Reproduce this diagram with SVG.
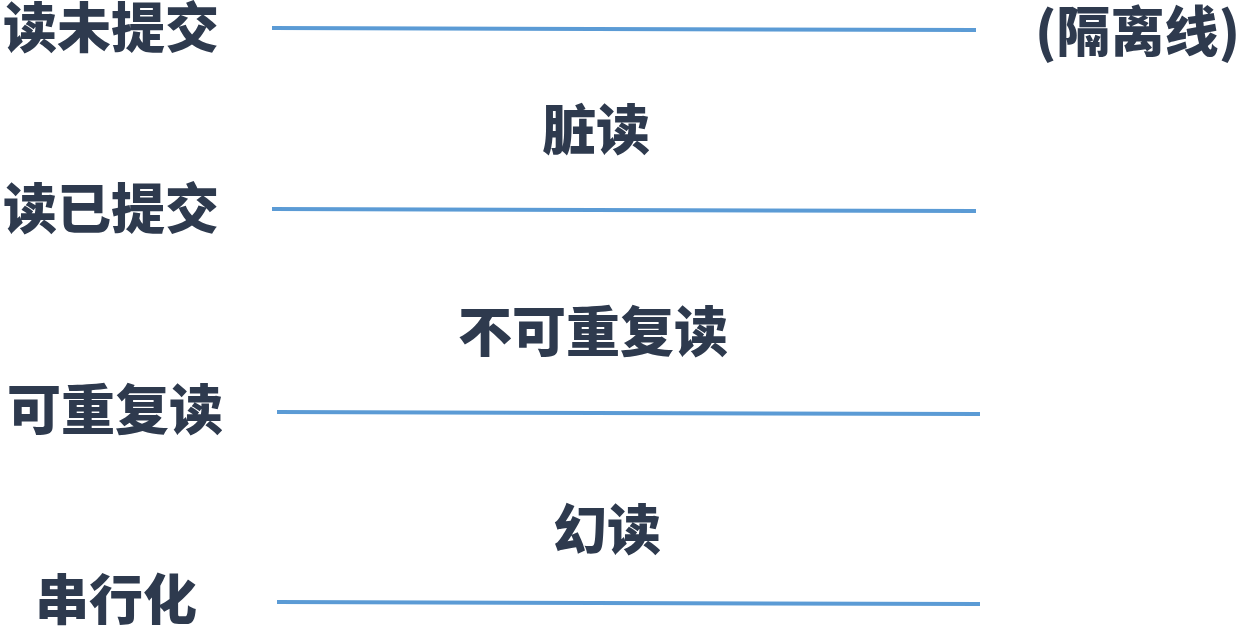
<svg xmlns="http://www.w3.org/2000/svg" width="1245" height="630" viewBox="0 0 1245 630">
<style>
.t{font-family:"Noto Sans CJK SC","Noto Sans",sans-serif;font-weight:900;font-size:54px;fill:#2e3a4e}
.c{text-anchor:middle}
.ln{stroke:#5b9bd5;stroke-width:4;fill:none}
</style>
<rect width="1245" height="630" fill="#ffffff"/>
<g id="connectors">
<line class="ln" x1="272" y1="28" x2="976" y2="30"/>
<line class="ln" x1="272" y1="209" x2="976" y2="211"/>
<line class="ln" x1="277" y1="412" x2="980" y2="414"/>
<line class="ln" x1="277" y1="602" x2="980" y2="604"/>
</g>
<g id="level-read-uncommitted"><text class="t" x="3" y="48">读未提交</text></g>
<g id="isolation-label"><text class="t" x="1035" y="52">(隔离线)</text></g>
<g id="dirty-read"><text class="t c" x="596" y="150">脏读</text></g>
<g id="level-read-committed"><text class="t" x="3" y="229">读已提交</text></g>
<g id="non-repeatable-read"><text class="t c" x="593" y="352">不可重复读</text></g>
<g id="level-repeatable-read"><text class="t" x="7" y="430">可重复读</text></g>
<g id="phantom-read"><text class="t c" x="607" y="550">幻读</text></g>
<g id="level-serializable"><text class="t" x="35" y="620">串行化</text></g>
</svg>
